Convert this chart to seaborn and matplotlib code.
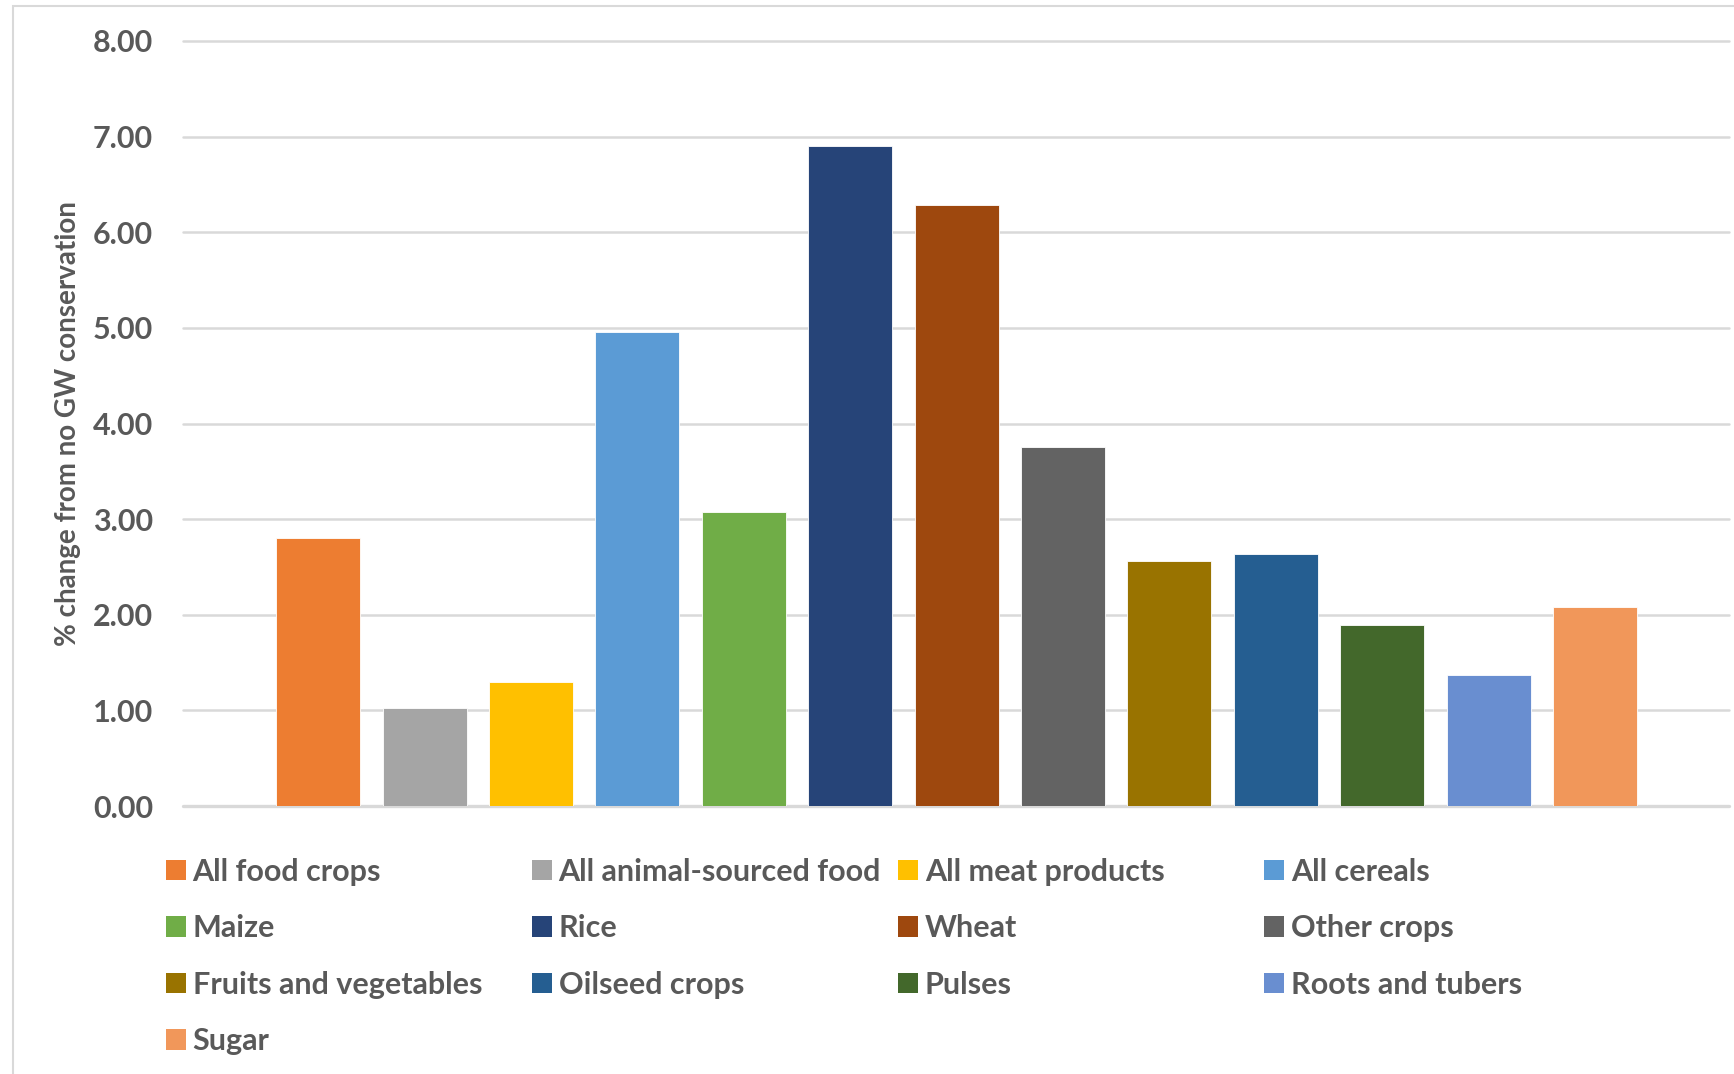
import matplotlib
matplotlib.use("Agg")
import matplotlib.pyplot as plt
from matplotlib.patches import Rectangle, Patch
import seaborn as sns
import pandas as pd

# Data
categories = [
    "All food crops", "All animal-sourced food", "All meat products", "All cereals",
    "Maize", "Rice", "Wheat", "Other crops",
    "Fruits and vegetables", "Oilseed crops", "Pulses", "Roots and tubers",
    "Sugar",
]
values = [2.80, 1.02, 1.30, 4.96, 3.07, 6.90, 6.29, 3.75, 2.56, 2.64, 1.89, 1.37, 2.08]
colors = [
    "#ED7D31", "#A5A5A5", "#FFC000", "#5B9BD5",
    "#70AD47", "#264478", "#9E480E", "#636363",
    "#997300", "#255E91", "#43682B", "#698ED0",
    "#F1975A",
]
y_ticks = [0, 1, 2, 3, 4, 5, 6, 7, 8]

W, H = 1734, 1074
TEXT = "#595959"
GRID = "#D9D9D9"

sns.set_theme(style="white")
plt.rcParams["font.family"] = ["Lato", "DejaVu Sans"]

df = pd.DataFrame({"Category": categories, "Value": values})

fig = plt.figure(figsize=(W / 100, H / 100), dpi=100)
ax = fig.add_axes([183 / W, 1 - 806 / H, (1729 - 183) / W, (806 - 41) / H])

sns.barplot(data=df, x="Category", y="Value", hue="Category",
            palette=dict(zip(categories, colors)), width=0.79, saturation=1,
            dodge=False, legend=False, ax=ax, edgecolor="white", linewidth=0.6)

ax.set_xlim(-1.27, 13.26)
ax.set_ylim(0, 8.0)
ax.set_yticks(y_ticks)
ax.set_yticklabels([f"{t:.2f}" for t in y_ticks])
for t in y_ticks:
    ax.axhline(t, color=GRID, lw=1.8 if t else 2.4, zorder=0, clip_on=False)
for s in ax.spines.values():
    s.set_visible(False)
ax.set_xticks([])
ax.set_xlabel("")
ax.tick_params(axis="y", length=0, pad=21.5, labelsize=22, labelcolor=TEXT)
for lab in ax.get_yticklabels():
    lab.set_fontweight("bold")
ax.set_ylabel("% change from no GW conservation", fontsize=20, fontweight="bold",
              color=TEXT)
ax.yaxis.set_label_coords(-0.0657, 0.5)

# legend: 4 equal-width columns, filled row by row
col_x = [150, 481, 812, 1143]
for c in range(4):
    idx = list(range(c, len(categories), 4))
    handles = [Patch(facecolor=colors[i], edgecolor="none") for i in idx]
    labels = [categories[i] for i in idx]
    fig.legend(handles, labels, loc="upper left",
               bbox_to_anchor=((col_x[c] / 0.904) / W, 1 - 858 / H),
               frameon=False, prop={"size": 22, "weight": "bold"},
               labelcolor=TEXT, handlelength=0.65, handleheight=0.65,
               handletextpad=0.22, labelspacing=0.93, borderpad=0, borderaxespad=0)

# chart-area border
fig.patches.append(Rectangle((13 / W, -0.01), 1.02, 1 - 6 / H + 0.01,
                             transform=fig.transFigure, fill=False,
                             edgecolor="#D9D9D9", lw=1.5))

fig.savefig("out.png", dpi=100)
